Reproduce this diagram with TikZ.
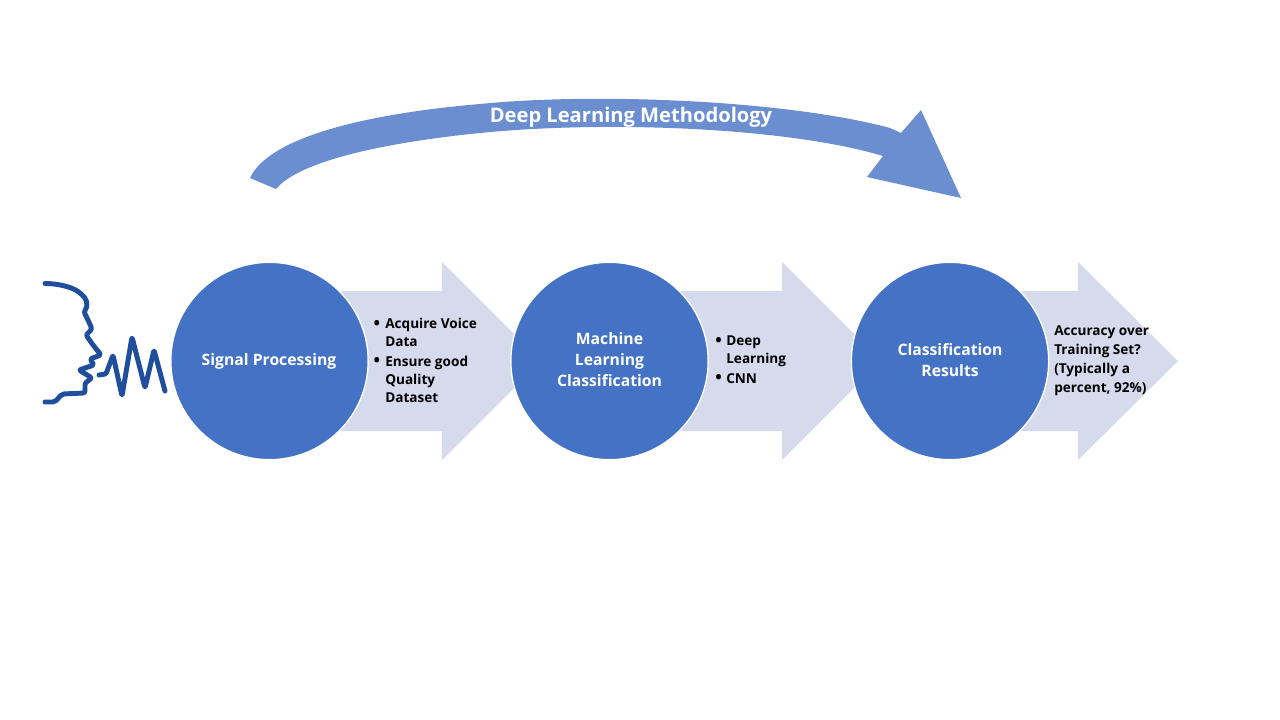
\documentclass[tikz,border=0pt]{standalone}
\usepackage{fontspec}
\setmainfont{Open Sans}
\definecolor{circ}{HTML}{4472C4}
\definecolor{pale}{HTML}{D5DAEC}
\definecolor{swoop}{HTML}{6A8ECF}
\definecolor{face}{HTML}{1F4E9C}
\tikzset{
 px/.style={x=0.75pt,y=-0.75pt},
 stage/.style={circle,fill=circ,draw=white,line width=1pt,minimum size=148pt,inner sep=0pt},
 stagetext/.style={inner sep=0pt,align=center,text=white,font=\fontsize{11.8}{15.6}\selectfont\bfseries},
 chevron/.style={fill=pale,draw=none},
 notes/.style={anchor=north west,align=left,inner sep=0pt,text=black,font=\fontsize{10.2}{13.5}\selectfont\bfseries},
 bul/.style={anchor=center,inner sep=0pt,text=black,font=\fontsize{13}{13}\selectfont\bfseries},
 faceline/.style={draw=face,line width=3.7pt,line cap=round,line join=round,rounded corners=1.6pt}
}
\begin{document}
\begin{tikzpicture}[px]
\useasboundingbox (0,0) rectangle (1280,720);
\fill[white] (0,0) rectangle (1280,720);
% swoop arrow
\fill[swoop] (250,178) .. controls (270,135) and (375,113) .. (480,104)
  .. controls (600,92) and (790,101) .. (890,128)
  -- (901,133) -- (921,110) -- (961,198) -- (867,177) -- (883,156)
  .. controls (790,128) and (610,120) .. (480,133)
  .. controls (390,142) and (300,160) .. (276,189) -- cycle;
\node[inner sep=0pt,text=white,font=\fontsize{15.1}{17}\selectfont\bfseries] (title) at (631,117) {Deep Learning Methodology};
% chevrons
\fill[chevron] (340,291) -- (442,291) -- (442,262) -- (541,361) -- (442,460) -- (442,431) -- (340,431) -- cycle;
\fill[chevron] (680,291) -- (782,291) -- (782,262) -- (881,361) -- (782,460) -- (782,431) -- (680,431) -- cycle;
\fill[chevron] (1020,291) -- (1078,291) -- (1078,262) -- (1178,361) -- (1078,460) -- (1078,431) -- (1020,431) -- cycle;
% circles
\node[stage] (s1) at (269.5,361) {};
\node[stage] (s2) at (609.5,361) {};
\node[stage] (s3) at (950,361) {};
\node[stagetext] (t1) at (269,361) {Signal Processing};
\node[stagetext] (t2) at (609.5,359.5) {Machine\\Learning\\Classification};
\node[stagetext] (t3) at (950,360) {Classification\\Results};
% notes
\node[bul] (b1) at (377,325) {•};
\node[notes] (n1) at (385,317.5) {Acquire Voice\\Data};
\node[bul] (b2) at (377,362) {•};
\node[notes] (n2) at (385,355.5) {Ensure good\\Quality\\Dataset};
\node[bul] (b3) at (718.5,342) {•};
\node[notes] (n3) at (726,336) {Deep\\Learning};
\node[bul] (b4) at (718.5,379) {•};
\node[notes] (n4) at (726,373.5) {CNN};
\node[notes,font=\fontsize{10.2}{14.3}\selectfont\bfseries] (n5) at (1054,325) {Accuracy over\\Training Set?\\(Typically a\\percent, 92\%)};
% speaking face
\draw[faceline] (45,283.5) .. controls (58,283.5) and (72,287) .. (80,293)
 .. controls (86,298) and (89,304) .. (84,312) -- (88,320) -- (92,329) -- (86,335) -- (93,345) -- (101,355)
 -- (90,359) -- (94,365) -- (79,370) -- (92,378) -- (85,383) -- (85,393) -- (62,394) -- (55,402) -- (45,402);
\draw[faceline] (99,375) -- (106,374) -- (113,355) -- (122,396) -- (132,337) -- (145,388) -- (154,350) -- (165,391);
\end{tikzpicture}
\end{document}
